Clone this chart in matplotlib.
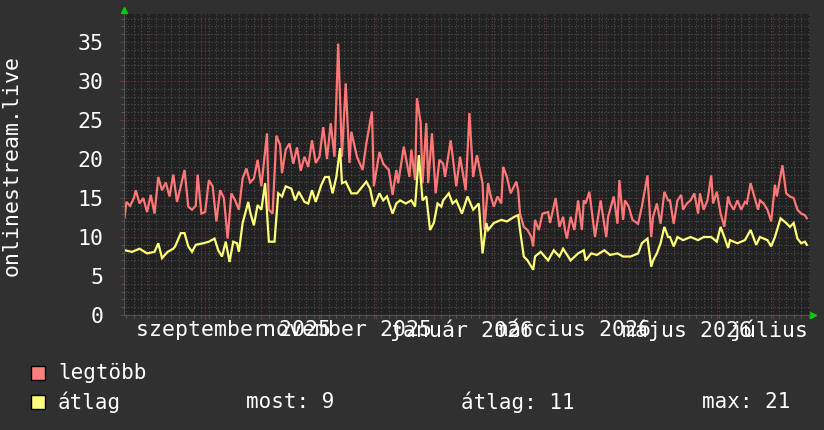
import numpy as np
import matplotlib.pyplot as plt
import matplotlib.dates as mdates
from matplotlib.ticker import MultipleLocator
from matplotlib.transforms import blended_transform_factory, Bbox, TransformedBbox

plt.rcParams['font.family'] = ['DejaVu Sans Mono']

# első nap: 2025-07-20, a napok ehhez képest
start = np.datetime64('2025-07-20')

# legtöbb (napi maximum)
max_days = [0, 1, 3, 5, 6, 8, 10, 12, 14, 16, 18, 20, 22, 24, 26, 28, 30, 32, 34, 36,
            38, 39, 41, 43, 45, 47, 49, 51, 53, 55, 57, 59, 61, 63, 65, 67, 69, 71, 73, 76,
            77, 79, 81, 83, 84, 86, 88, 90, 92, 94, 96, 98, 100, 102, 104, 106, 108, 110, 112, 114,
            116, 118, 120, 121, 124, 127, 129, 132, 133, 136, 138, 141, 143, 145, 146, 149, 152, 153, 155, 156,
            158, 159, 161, 162, 164, 166, 168, 170, 171, 174, 177, 179, 182, 184, 186, 188, 191, 192, 194, 195,
            197, 199, 201, 202, 204, 206, 209, 210, 211, 213, 215, 217, 218, 219, 221, 223, 226, 227, 230, 232,
            234, 235, 236, 238, 240, 242, 244, 245, 246, 248, 251, 254, 257, 258, 261, 263, 264, 266, 267, 269,
            271, 274, 276, 279, 281, 282, 284, 286, 288, 290, 291, 293, 295, 297, 298, 300, 302, 304, 306, 307,
            309, 311, 313, 314, 316, 318, 320, 322, 323, 325, 327, 329, 331, 332, 334, 336, 338, 339, 341, 343,
            345, 347, 348, 351, 353, 355, 357, 359, 361, 363, 364]
max_vals = [12.5, 14.5, 14.0, 15.0, 16.0, 14.3, 15.0, 13.2, 15.4, 13.0, 17.7, 16.0, 17.0, 15.2, 18.0, 14.5, 16.5, 18.6, 13.9, 13.5,
            14.0, 18.0, 13.0, 13.2, 17.3, 16.5, 12.0, 16.0, 15.0, 9.8, 15.6, 14.7, 13.5, 17.5, 18.8, 17.0, 17.5, 19.9, 16.5, 23.3,
            13.5, 13.0, 23.0, 21.8, 18.2, 21.2, 22.0, 19.4, 21.5, 18.5, 20.3, 19.0, 22.4, 19.5, 20.3, 24.1, 20.0, 24.6, 20.3, 34.8,
            20.3, 29.7, 19.5, 23.5, 20.3, 18.6, 22.0, 26.1, 16.5, 20.9, 19.4, 18.6, 15.4, 18.6, 16.9, 21.6, 17.7, 21.2, 17.3, 27.8,
            24.6, 16.9, 24.6, 16.9, 23.3, 15.6, 19.9, 19.4, 17.7, 22.4, 16.5, 20.3, 16.0, 25.9, 17.7, 20.5, 16.9, 10.9, 16.9, 15.6,
            13.9, 15.2, 14.3, 19.0, 17.7, 15.6, 17.1, 16.0, 13.0, 11.3, 10.9, 10.0, 8.8, 12.2, 10.9, 13.0, 13.2, 11.8, 15.0, 11.3,
            12.6, 10.9, 9.8, 12.6, 10.9, 14.7, 10.9, 14.7, 14.3, 15.8, 10.0, 14.7, 10.0, 12.6, 15.2, 11.7, 17.3, 12.2, 14.7, 13.9,
            12.2, 11.7, 13.9, 17.9, 10.0, 12.6, 14.3, 11.7, 15.8, 14.7, 14.7, 11.7, 14.7, 15.4, 13.5, 14.3, 14.7, 15.6, 13.0, 15.6,
            13.5, 14.7, 17.9, 14.3, 15.8, 13.0, 11.3, 15.2, 14.3, 13.5, 14.7, 13.5, 14.5, 14.3, 16.9, 15.2, 13.5, 14.7, 14.3, 13.5,
            12.0, 16.7, 15.2, 19.2, 15.6, 15.2, 15.0, 13.5, 13.0, 12.8, 12.4]

# átlag (napi átlag)
avg_days = [0, 4, 8, 12, 16, 18, 20, 23, 26, 27, 30, 32, 34, 36, 38, 42, 45, 48, 50, 52,
            54, 56, 58, 60, 61, 63, 66, 67, 69, 71, 73, 75, 77, 80, 82, 84, 86, 89, 91, 93,
            96, 98, 100, 102, 105, 107, 109, 111, 113, 115, 116, 118, 121, 124, 129, 131, 133, 136, 138, 140,
            143, 145, 147, 150, 153, 155, 157, 159, 161, 163, 165, 167, 169, 170, 173, 175, 177, 180, 183, 186,
            189, 191, 193, 194, 197, 201, 204, 208, 210, 211, 213, 215, 218, 219, 222, 226, 229, 232, 234, 238,
            242, 245, 246, 249, 252, 256, 259, 263, 266, 270, 274, 276, 279, 281, 282, 284, 286, 288, 290, 291,
            293, 295, 298, 302, 306, 309, 313, 316, 318, 320, 322, 323, 327, 331, 334, 337, 339, 343, 345, 347,
            350, 353, 355, 357, 359, 361, 363, 364]
avg_vals = [8.3, 8.1, 8.5, 7.9, 8.1, 9.2, 7.3, 8.1, 8.5, 8.8, 10.5, 10.5, 8.8, 8.1, 9.0, 9.2, 9.4, 9.8, 8.3, 7.5,
            9.4, 6.8, 9.4, 9.2, 8.1, 11.8, 14.5, 13.2, 11.5, 14.1, 13.5, 16.9, 9.4, 9.4, 15.6, 15.2, 16.5, 16.2, 14.7, 15.8,
            14.5, 14.3, 16.0, 14.5, 16.7, 17.7, 17.7, 15.6, 17.7, 21.4, 16.9, 17.1, 15.6, 15.6, 17.1, 16.2, 13.9, 15.6, 14.7, 15.2,
            13.0, 14.3, 14.7, 14.3, 14.7, 13.9, 20.5, 14.7, 15.2, 10.9, 11.8, 14.3, 13.9, 14.7, 15.6, 14.3, 14.7, 13.0, 15.2, 13.5,
            14.3, 7.9, 11.8, 10.9, 11.8, 12.2, 12.0, 12.6, 12.8, 10.9, 7.5, 7.0, 5.8, 7.5, 8.1, 7.0, 8.3, 7.5, 8.5, 7.0,
            7.9, 8.3, 7.0, 7.9, 7.7, 8.3, 7.7, 7.9, 7.5, 7.5, 7.9, 9.2, 9.8, 6.2, 7.0, 7.9, 9.2, 11.3, 10.0, 10.0,
            8.8, 10.0, 9.6, 10.0, 9.6, 10.0, 10.0, 9.4, 11.3, 10.0, 8.6, 9.6, 9.2, 9.6, 10.9, 9.0, 10.0, 9.6, 8.8, 10.0,
            12.4, 11.8, 11.3, 11.8, 9.8, 9.2, 9.4, 9.0]

label_months = ['2025-09', '2025-11', '2026-01', '2026-03', '2026-05', '2026-07']
month_labels = ['szeptember 2025', 'november 2025', 'január 2026',
                'március 2026', 'május 2026', 'július 2026']

stat_labels = ['most: 9', 'átlag: 11', 'max: 21']

red = '#ff7777'
yellow = '#ffff77'
canvas = '#303030'

max_x = start + np.array(max_days).astype('timedelta64[D]')
avg_x = start + np.array(avg_days).astype('timedelta64[D]')

fig = plt.figure(figsize=(8.24, 4.30), dpi=100, facecolor=canvas)
ax = fig.add_axes([124 / 824, 115 / 430, 686 / 824, 301 / 430])
ax.set_facecolor('#212121')

ax.plot(max_x, max_vals, color=red, lw=1.6, solid_joinstyle='miter')
ax.plot(avg_x, avg_vals, color=yellow, lw=1.6, solid_joinstyle='miter')

ax.set_xlim(np.datetime64('2025-07-19T17:00'), np.datetime64('2026-07-20T17:00'))
ax.set_ylim(0, 38.6)

# rács
ax.yaxis.set_major_locator(MultipleLocator(5))
ax.yaxis.set_minor_locator(MultipleLocator(1))
ax.xaxis.set_major_locator(mdates.MonthLocator())
ax.xaxis.set_minor_locator(mdates.DayLocator(interval=4))
ax.grid(which='minor', color='#505050', lw=0.8, linestyle=(0, (1, 2)))
ax.grid(which='major', color='#733333', lw=0.8, linestyle=(0, (1, 2)))
ax.set_axisbelow(True)

ax.tick_params(which='major', length=3, color='#803030', labelsize=15.5,
               labelcolor='white', pad=12)
ax.tick_params(which='minor', length=2, color='#606060')
ax.tick_params(axis='x', labelbottom=False)
for s in ['top', 'right']:
    ax.spines[s].set_visible(False)
for s in ['left', 'bottom']:
    ax.spines[s].set_color('#505050')

# hónap feliratok a hónap közepén, a jobb szélen levágva
tr = blended_transform_factory(ax.transData, ax.transAxes)
clip = TransformedBbox(Bbox([[0, 0], [812 / 824, 1]]), fig.transFigure)
for m, lab in zip(label_months, month_labels):
    pos = np.datetime64(m + '-01') + np.timedelta64(15, 'D')
    t = ax.text(pos, -0.015, lab, transform=tr, ha='center', va='top',
                fontsize=15.5, color='white')
    t.set_clip_box(clip)
    t.set_clip_on(True)

# zöld nyilak
ax.plot([0], [1.013], marker='^', color='#00cc00', ms=5, transform=ax.transAxes, clip_on=False)
ax.plot([1.004], [0], marker='>', color='#00cc00', ms=5, transform=ax.transAxes, clip_on=False)

fig.text(12 / 824, 1 - 165 / 430, 'onlinestream.live', rotation=90, color='white',
         fontsize=15.5, ha='center', va='center')

# jelmagyarázat
fig.patches.append(plt.Rectangle((31 / 824, 1 - 380 / 430), 14 / 824, 14 / 430,
                                 facecolor='#ff7f7f', edgecolor='black', lw=1,
                                 transform=fig.transFigure))
fig.patches.append(plt.Rectangle((31 / 824, 1 - 409 / 430), 14 / 824, 14 / 430,
                                 facecolor='#ffff7f', edgecolor='black', lw=1,
                                 transform=fig.transFigure))
fig.text(58 / 824, 1 - 373 / 430, 'legtöbb', color='white', fontsize=15, va='center')
fig.text(58 / 824, 1 - 402 / 430, 'átlag', color='white', fontsize=15, va='center')
for xp, lab in zip([246, 461, 702], stat_labels):
    fig.text(xp / 824, 1 - 402 / 430, lab, color='white', fontsize=15, va='center')

fig.savefig('out.png', dpi=100, facecolor=canvas)
